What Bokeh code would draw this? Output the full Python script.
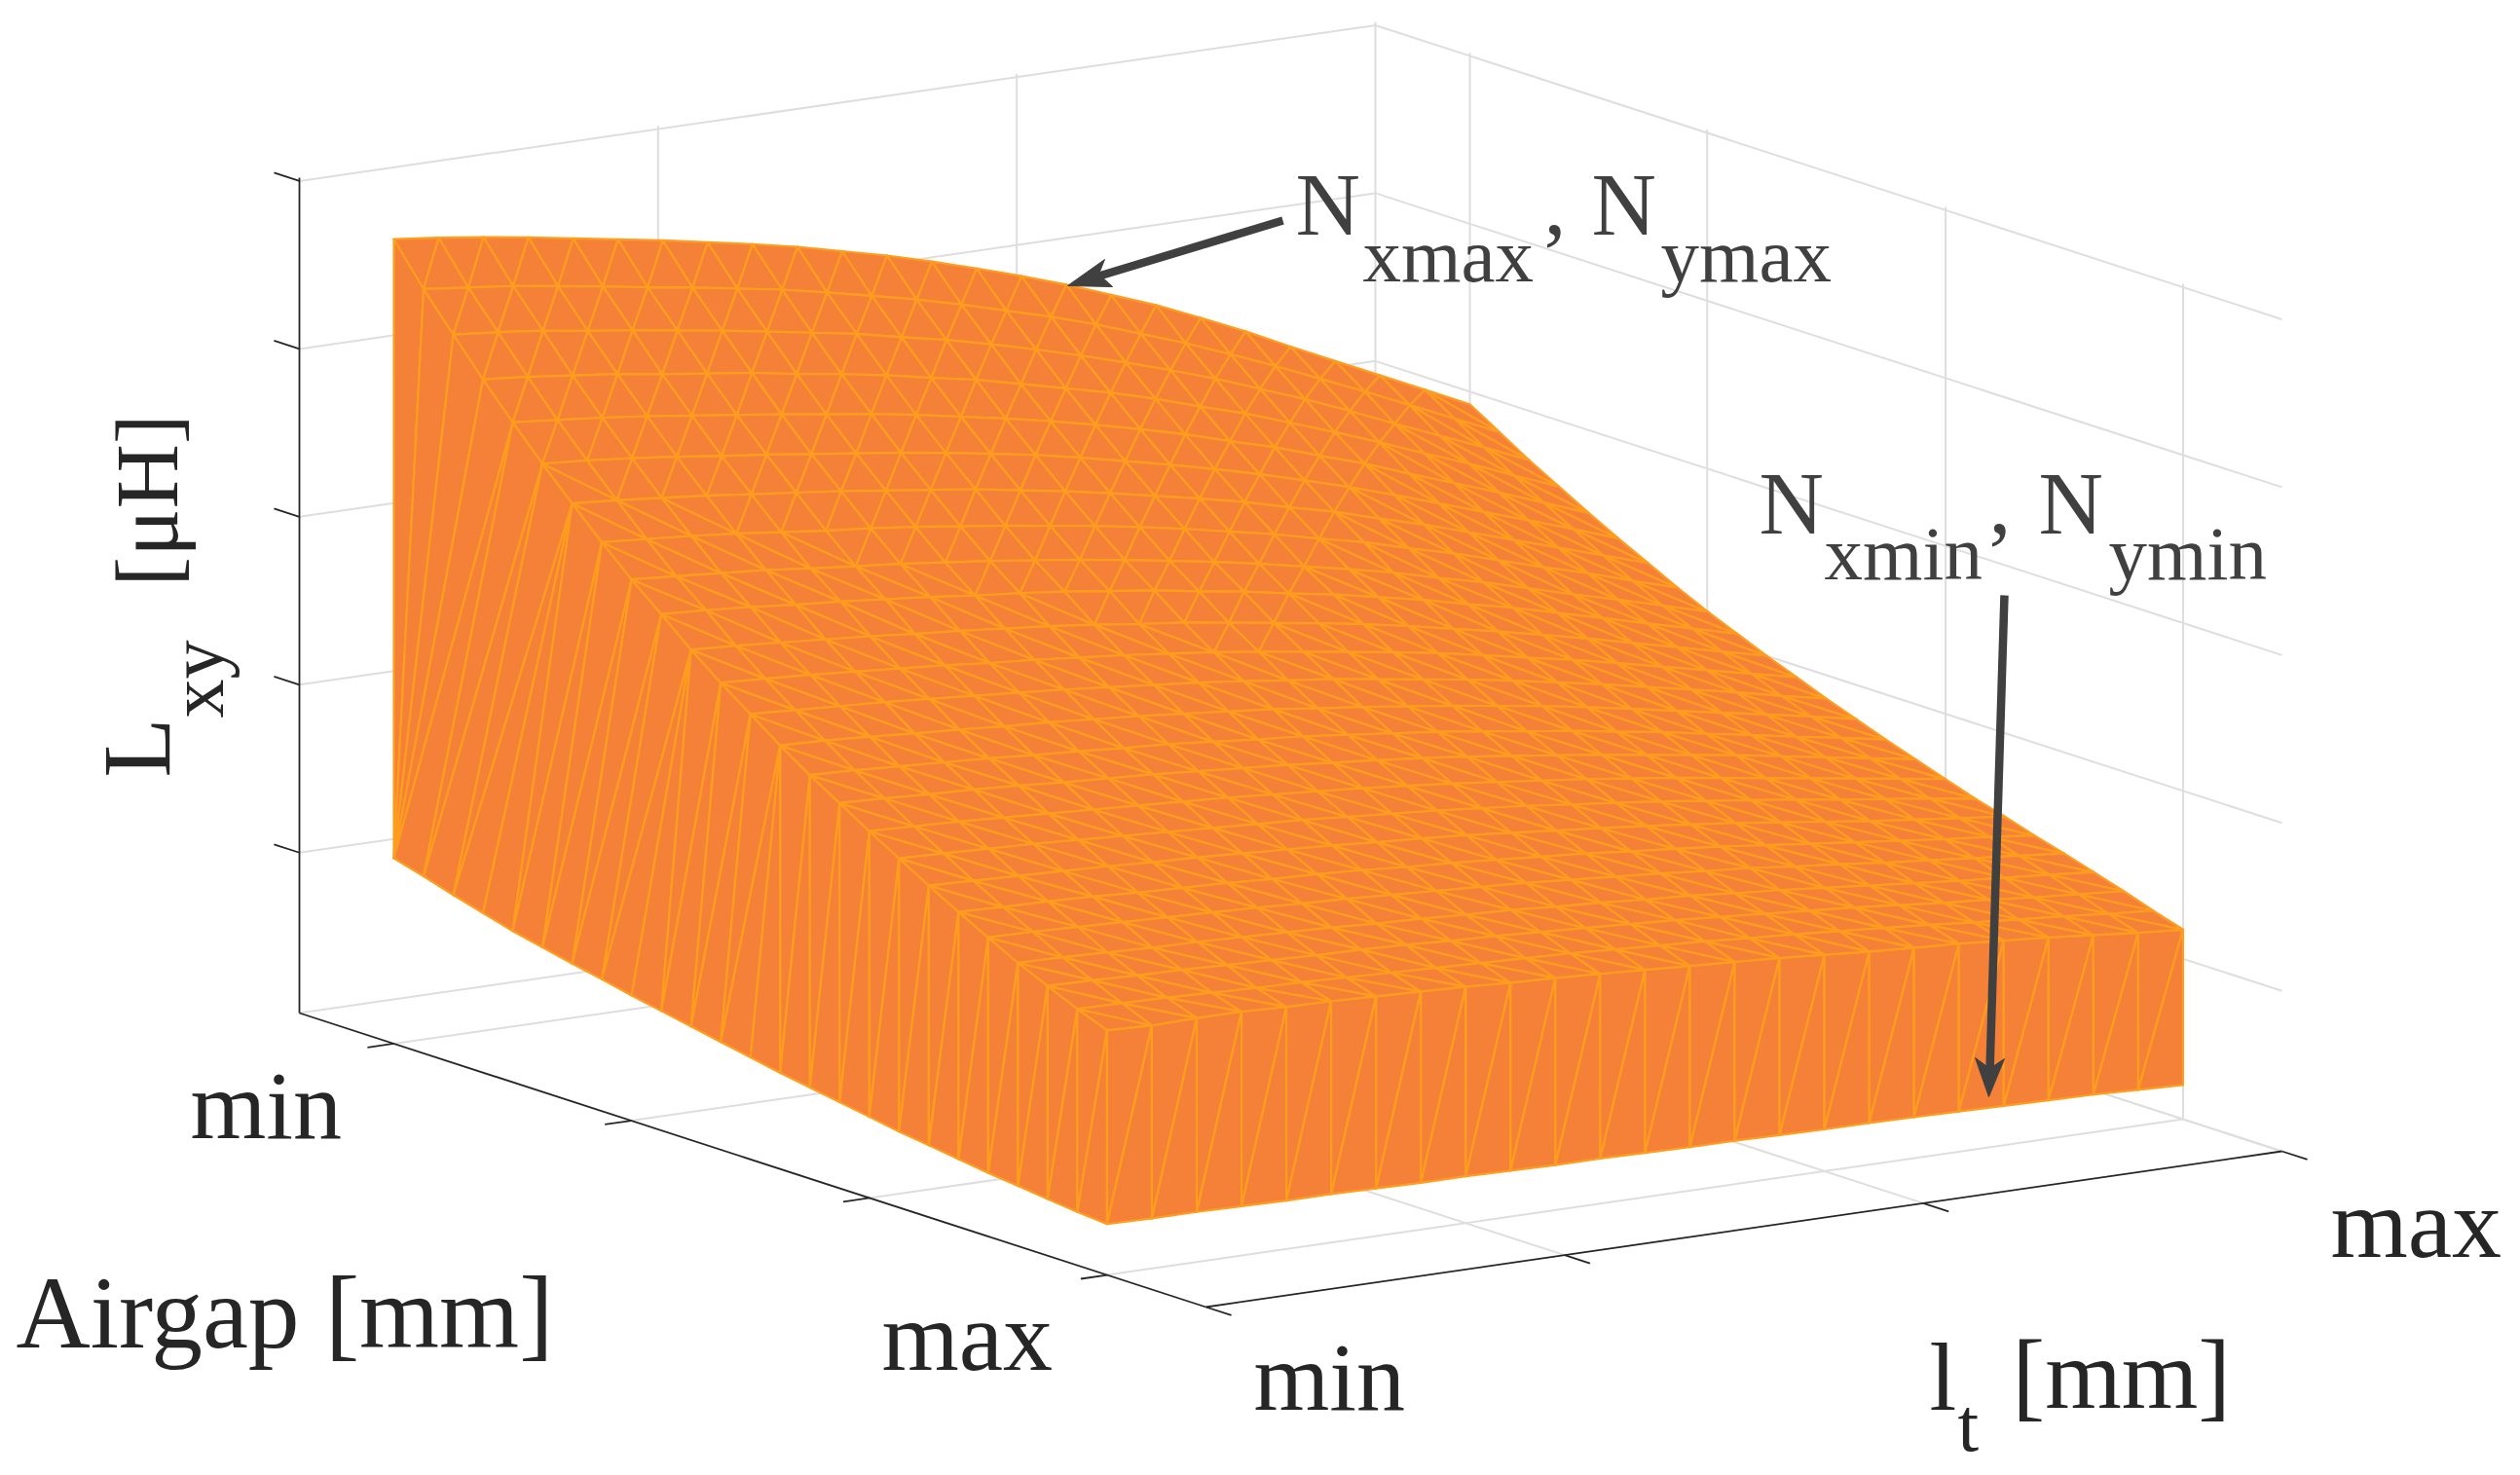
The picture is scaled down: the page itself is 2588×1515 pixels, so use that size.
from bokeh.plotting import figure
from bokeh.embed import file_html
from bokeh.resources import INLINE
from math import pi

# ---- data (normalised axis units) ----
airgap_ticks = [0.1042, 0.366, 0.629, 0.891]
lt_ticks = [0.0, 1/3, 2/3, 1.0]
lxy_ticks = [0.192, 0.393, 0.594, 0.795, 0.996]
airgap_tick_labels = ["min", "max"]
lt_tick_labels = ["min", "max"]

airgap_nodes = [0.1042 + 0.03278 * i for i in range(25)]
lt_nodes = [i / 24 for i in range(25)]

# upper sheet (Nxmax, Nymax): rows = airgap nodes, columns = lt nodes
lxy_top = [
 [.963,.957,.950,.942,.933,.924,.915,.905,.895,.884,.871,.858,.843,.827,.810,.792,.772,.752,.729,.705,.679,.654,.629,.604,.579],
 [.915,.909,.903,.895,.887,.878,.870,.861,.852,.841,.829,.817,.803,.788,.773,.756,.737,.718,.697,.675,.652,.629,.605,.581,.557],
 [.872,.867,.861,.853,.846,.838,.830,.821,.812,.803,.791,.780,.767,.753,.738,.722,.705,.687,.667,.647,.625,.602,.580,.558,.535],
 [.830,.825,.819,.813,.805,.798,.791,.782,.774,.765,.754,.744,.731,.718,.705,.690,.673,.657,.638,.619,.599,.578,.558,.536,.515],
 [.790,.785,.780,.774,.767,.760,.753,.745,.738,.729,.719,.709,.698,.686,.673,.659,.643,.628,.610,.593,.573,.554,.535,.515,.495],
 [.752,.748,.743,.737,.730,.724,.717,.710,.703,.695,.686,.677,.666,.654,.642,.629,.615,.600,.584,.567,.549,.531,.513,.495,.476],
 [.716,.712,.707,.702,.696,.690,.684,.677,.670,.663,.654,.645,.635,.624,.613,.601,.587,.574,.558,.543,.526,.509,.492,.475,.458],
 [.681,.677,.673,.668,.662,.656,.651,.645,.638,.631,.623,.615,.606,.596,.585,.574,.561,.549,.534,.520,.504,.488,.473,.456,.440],
 [.648,.644,.640,.636,.630,.625,.620,.614,.608,.601,.594,.586,.577,.568,.558,.547,.536,.524,.510,.497,.482,.467,.453,.438,.423],
 [.618,.615,.611,.606,.602,.597,.592,.586,.581,.575,.568,.561,.552,.544,.534,.525,.514,.503,.490,.478,.464,.450,.436,.422,.408],
 [.587,.584,.580,.576,.572,.567,.563,.558,.553,.547,.540,.534,.526,.518,.510,.501,.491,.480,.469,.457,.445,.432,.419,.406,.393],
 [.559,.556,.553,.549,.545,.541,.536,.532,.527,.522,.516,.510,.503,.495,.487,.479,.470,.460,.449,.439,.427,.415,.403,.391,.379],
 [.533,.530,.527,.524,.520,.516,.512,.508,.503,.498,.493,.487,.480,.474,.466,.458,.450,.441,.431,.421,.410,.399,.388,.376,.365],
 [.507,.505,.502,.498,.495,.491,.488,.484,.480,.475,.470,.465,.458,.452,.445,.438,.430,.422,.413,.403,.393,.383,.373,.363,.352],
 [.483,.481,.478,.475,.472,.468,.465,.461,.458,.453,.448,.444,.438,.432,.426,.419,.411,.404,.395,.387,.377,.368,.358,.349,.339],
 [.461,.459,.456,.454,.451,.447,.444,.441,.437,.433,.429,.424,.419,.414,.408,.401,.394,.387,.379,.371,.363,.354,.345,.336,.327],
 [.439,.437,.435,.432,.429,.426,.423,.420,.417,.413,.409,.405,.400,.395,.389,.383,.377,.370,.363,.355,.347,.339,.331,.323,.315],
 [.418,.416,.414,.412,.409,.406,.403,.400,.397,.394,.390,.386,.382,.377,.372,.366,.360,.354,.347,.340,.333,.325,.318,.311,.303],
 [.397,.395,.393,.391,.389,.386,.384,.381,.378,.375,.371,.368,.364,.359,.354,.349,.344,.338,.332,.325,.318,.311,.305,.299,.293],
 [.377,.375,.374,.372,.369,.367,.365,.362,.360,.357,.353,.350,.346,.342,.338,.333,.328,.323,.317,.311,.305,.299,.293,.288,.282],
 [.358,.357,.355,.353,.351,.349,.347,.344,.342,.339,.336,.333,.330,.326,.322,.318,.313,.309,.303,.298,.292,.287,.282,.277,.272],
 [.339,.338,.336,.334,.333,.331,.329,.327,.324,.322,.319,.317,.313,.310,.306,.303,.298,.294,.289,.284,.279,.274,.270,.266,.261],
 [.323,.322,.320,.319,.317,.315,.313,.312,.310,.307,.305,.302,.299,.296,.293,.289,.285,.281,.277,.272,.267,.263,.258,.254,.250],
 [.307,.306,.305,.303,.301,.300,.298,.296,.294,.292,.290,.288,.285,.282,.279,.275,.272,.268,.264,.260,.255,.251,.247,.242,.238],
 [.293,.291,.292,.292,.290,.289,.287,.285,.283,.280,.278,.275,.272,.269,.266,.263,.259,.255,.252,.249,.245,.241,.236,.231,.227],
]
# lower sheet (Nxmin, Nymin) along its two visible edges
lxy_bottom_lt_min = [.222,.212,.201,.191,.181,.173,.165,.158,.150,.143,.136,.129,.122,.115,.109,.103,.097,.091,.086,.081,.076,.072,.068,.064,.061]
lxy_bottom_gap_max = [.061,.060,.060,.059,.058,.058,.057,.056,.056,.055,.054,.054,.053,.052,.052,.051,.050,.050,.049,.048,.047,.046,.045,.043,.041]

# ---- oblique 3-D view of the MATLAB axes, in page pixels ----
ORIGIN = (307.0, 1040.0)
GAP_VEC = (931.0, 302.0)
LT_VEC = (1105.0, -160.0)
LXY_VEC = (0.0, -858.0)


def project(g, l, z):
    return (ORIGIN[0] + g * GAP_VEC[0] + l * LT_VEC[0] + z * LXY_VEC[0],
            ORIGIN[1] + g * GAP_VEC[1] + l * LT_VEC[1] + z * LXY_VEC[1])


def seg(a, b):
    pa, pb = project(*a), project(*b)
    return [pa[0], pb[0]], [pa[1], pb[1]]


p = figure(width=2580, height=1507, x_range=(0, 2580), y_range=(1507, 0),
           output_backend="svg", toolbar_location=None, min_border=0)
p.axis.visible = False
p.grid.visible = False
p.outline_line_color = None
p.background_fill_color = "white"

# ---- walls / floor grid ----
grid = []
for z in [0.0] + lxy_ticks:
    grid.append(seg((0, 0, z), (0, 1, z)))
    grid.append(seg((0, 1, z), (1, 1, z)))
for l in lt_ticks[1:]:
    grid.append(seg((0, l, 0), (0, l, 1)))
    grid.append(seg((0, l, 0), (1, l, 0)))
for g in airgap_ticks:
    grid.append(seg((g, 1, 0), (g, 1, 1)))
    grid.append(seg((g, 0, 0), (g, 1, 0)))
p.multi_line([s[0] for s in grid], [s[1] for s in grid], line_color="#DEDEDE", line_width=2)

# ---- box axes and ticks ----
axes = [seg((0, 0, 0), (0, 0, 1)), seg((0, 0, 0), (1, 0, 0)), seg((1, 0, 0), (1, 1, 0))]
for z in lxy_ticks:
    axes.append(seg((0, 0, z), (-0.028, 0, z)))
for g in airgap_ticks:
    axes.append(seg((g, 0, 0), (g, -0.0245, 0)))
for l in lt_ticks:
    axes.append(seg((1, l, 0), (1.028, l, 0)))
p.multi_line([s[0] for s in axes], [s[1] for s in axes], line_color="#262626", line_width=1.8)

# ---- surface mesh ----
n = len(airgap_nodes)
top = [[project(airgap_nodes[r], lt_nodes[j], lxy_top[r][j]) for j in range(n)] for r in range(n)]
bot_left = [project(airgap_nodes[r], 0.0, lxy_bottom_lt_min[r]) for r in range(n)]
bot_front = [project(airgap_nodes[-1], lt_nodes[j], lxy_bottom_gap_max[j]) for j in range(n)]

tris = []


def strip(moves, tops, bots):
    b = t = 0
    for m in moves:
        if m == "T":
            tris.append((bots[b], tops[t], tops[t + 1]))
            t += 1
        else:
            tris.append((bots[b], bots[b + 1], tops[t]))
            b += 1


strip("TTTTBTBTBBTBTBTBTBBTBTBTBB" + "TB" * 11, [top[r][0] for r in range(n)], bot_left)
strip("TB" * 24, top[-1], bot_front)

for r in range(n - 1):
    for j in range(n - 1):
        if j >= 2 * (r - 5) + 1 and r + j < 23:
            tris.append((top[r][j], top[r][j + 1], top[r + 1][j]))
            tris.append((top[r][j + 1], top[r + 1][j], top[r + 1][j + 1]))
        else:
            tris.append((top[r][j], top[r + 1][j], top[r + 1][j + 1]))
            tris.append((top[r][j], top[r][j + 1], top[r + 1][j + 1]))

p.patches([[v[0] for v in t] for t in tris], [[v[1] for v in t] for t in tris],
          fill_color="#F58139", line_color="#FF9D1E", line_width=2.2, line_join="round")

# ---- annotation arrows ----
ARROW = "#404040"
p.line([1317, 1125], [226, 284], line_color=ARROW, line_width=8.5)
p.patch([1096, 1134, 1128, 1142], [293, 266, 281, 294], fill_color=ARROW, line_color=ARROW, line_width=1)
p.line([2058, 2043], [611, 1100], line_color=ARROW, line_width=8.5)
p.patch([2042, 2028, 2043, 2058], [1126, 1086, 1097, 1087], fill_color=ARROW, line_color=ARROW, line_width=1)

# ---- texts ----
DARK = "#262626"
SERIF = "Liberation Serif"
BASE = 0.33   # the renderer draws "alphabetic" text lower by this share of the size
labels = [
    (airgap_tick_labels[0], 195, 1168, 100, DARK),
    (airgap_tick_labels[1], 905, 1406, 102, DARK),
    (lt_tick_labels[0], 1287, 1447, 100, DARK),
    (lt_tick_labels[1], 2393, 1290, 102, DARK),
    ("Airgap [mm]", 16, 1383, 105.5, DARK),
    ("l", 1981, 1447, 100, DARK),
    ("t", 2010, 1489, 78, DARK),
    ("[mm]", 2066, 1445, 101, DARK),
    ("N", 1330, 240, 92, ARROW),
    ("xmax", 1399, 288, 79, ARROW),
    (",", 1585, 240, 92, ARROW),
    ("N", 1634, 240, 92, ARROW),
    ("ymax", 1705, 288, 79, ARROW),
    ("N", 1806, 547, 92, ARROW),
    ("xmin", 1873, 594, 79, ARROW),
    (",", 2042, 547, 92, ARROW),
    ("N", 2093, 547, 92, ARROW),
    ("ymin", 2165, 594, 79, ARROW),
]
for txt, x, y, size, col in labels:
    p.text([x], [y - BASE * size], text=[txt], text_font=SERIF, text_font_size=f"{size}px", text_color=col,
           text_align="left", text_baseline="alphabetic")

rotated = [("L", 173, 798, 100), ("xy", 228, 737, 80), ("[μH]", 181, 602, 92)]
for txt, x, y, size in rotated:
    p.text([x - BASE * size], [y], text=[txt], angle=pi / 2, angle_units="rad", text_font=SERIF,
           text_font_size=f"{size}px", text_color=DARK, text_align="left", text_baseline="alphabetic")

open("out.html", "w").write(file_html(p, INLINE))
